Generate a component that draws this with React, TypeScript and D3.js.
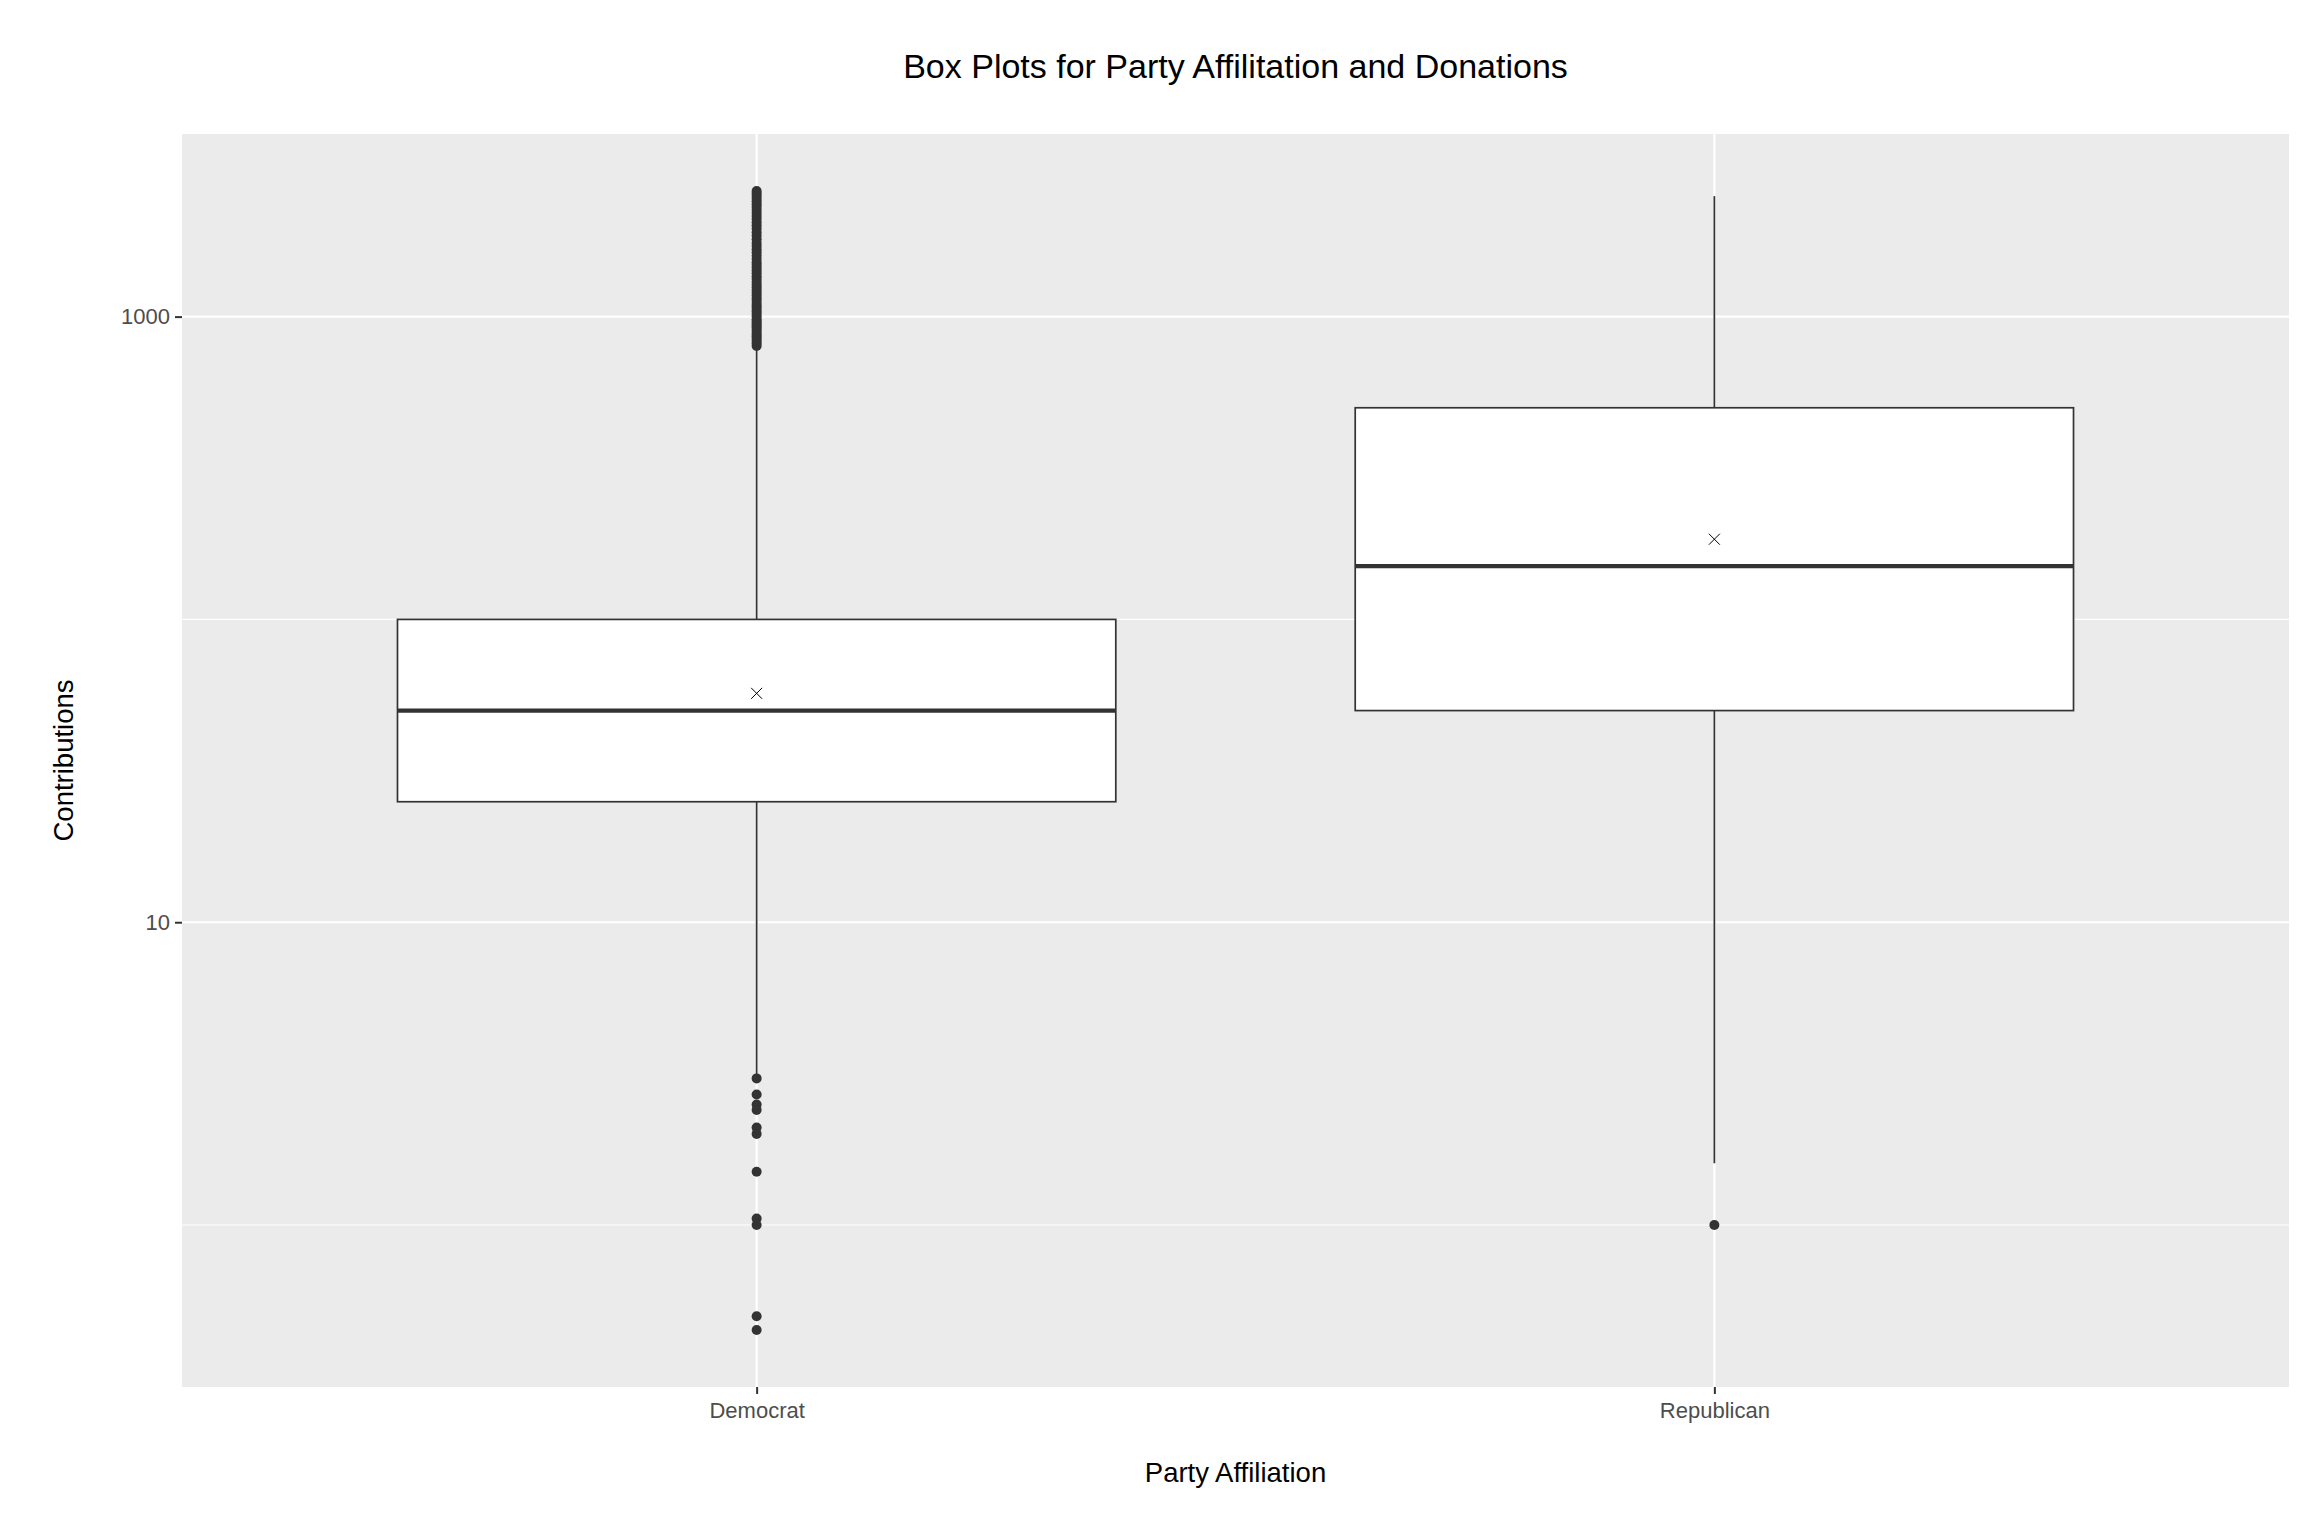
import * as d3 from 'd3'
import { useEffect, useRef } from 'react'

const parties = ['Democrat', 'Republican']
const q1 = [25, 50]
const medians = [50, 150]
const q3 = [100, 500]
const whiskerLow = [3.15, 1.6]
const whiskerHigh = [790, 2500]
const means = [57, 184]
const outliers = [
    [800, 815, 830, 845, 860, 875, 890, 905, 920, 935, 950, 965, 980, 1000, 1020, 1040, 1060, 1080, 1100, 1125,
        1150, 1175, 1200, 1225, 1250, 1275, 1300, 1330, 1360, 1390, 1420, 1450, 1480, 1510, 1550, 1590, 1630,
        1670, 1710, 1750, 1800, 1850, 1900, 1950, 2000, 2050, 2100, 2150, 2200, 2250, 2300, 2350, 2400, 2450,
        2500, 2550, 2600,
        3.05, 2.7, 2.5, 2.4, 2.1, 2, 1.5, 1.05, 1, 0.5, 0.45],
    [1],
]
const yBreaks = [10, 1000]
const yMinorBreaks = [1, 100]

const width = 2304
const height = 1536
const margin = { top: 134, right: 15, bottom: 149, left: 182 }
const font = '"Liberation Sans", Arial, sans-serif'

const App = () => {
    const ref = useRef<SVGSVGElement>(null)

    useEffect(() => {
        const innerWidth = width - margin.left - margin.right
        const innerHeight = height - margin.top - margin.bottom

        const root = d3.select(ref.current)
        root.selectAll('*').remove()

        // log range with ggplot-style 5% expansion
        const all = [...whiskerLow, ...whiskerHigh, ...outliers.flat()]
        const lo = Math.log10(d3.min(all)!)
        const hi = Math.log10(d3.max(all)!)
        const pad = (hi - lo) * 0.05
        const y = d3.scaleLog()
            .domain([10 ** (lo - pad), 10 ** (hi + pad)])
            .range([innerHeight, 0])

        const x = d3.scalePoint<string>()
            .domain(parties)
            .range([0, innerWidth])
            .padding(0.6)
        const boxW = x.step() * 0.75

        root.append('text')
            .attr('x', margin.left + innerWidth / 2)
            .attr('y', 78)
            .attr('text-anchor', 'middle')
            .attr('font-family', font)
            .attr('font-size', '34px')
            .attr('fill', '#000')
            .text('Box Plots for Party Affilitation and Donations')

        const svg = root.append('g')
            .attr('transform', `translate(${margin.left},${margin.top})`)

        svg.append('rect')
            .attr('width', innerWidth)
            .attr('height', innerHeight)
            .attr('fill', '#EBEBEB')

        // grid
        svg.selectAll('.minor')
            .data(yMinorBreaks)
            .join('line')
            .attr('x1', 0).attr('x2', innerWidth)
            .attr('y1', d => y(d)).attr('y2', d => y(d))
            .attr('stroke', '#fff').attr('stroke-width', 1.1)
        svg.selectAll('.major')
            .data(yBreaks)
            .join('line')
            .attr('x1', 0).attr('x2', innerWidth)
            .attr('y1', d => y(d)).attr('y2', d => y(d))
            .attr('stroke', '#fff').attr('stroke-width', 2.2)
        svg.selectAll('.vgrid')
            .data(parties)
            .join('line')
            .attr('x1', d => x(d)!).attr('x2', d => x(d)!)
            .attr('y1', 0).attr('y2', innerHeight)
            .attr('stroke', '#fff').attr('stroke-width', 2.2)

        // axes
        const yAxis = svg.append('g')
            .call(d3.axisLeft(y).tickValues(yBreaks).tickFormat(d3.format('d')).tickSize(7).tickPadding(5))
        const xAxis = svg.append('g')
            .attr('transform', `translate(0,${innerHeight})`)
            .call(d3.axisBottom(x).tickSize(7).tickPadding(8))
        for (const ax of [yAxis, xAxis]) {
            ax.select('.domain').remove()
            ax.selectAll('line').attr('stroke', '#333').attr('stroke-width', 2)
            ax.selectAll('text')
                .attr('font-family', font)
                .attr('font-size', '22px')
                .attr('fill', '#4D4D4D')
        }

        const groups = svg.selectAll('.box')
            .data(parties)
            .join('g')
            .attr('transform', d => `translate(${x(d)},0)`)

        groups.append('line')
            .attr('y1', (_, i) => y(q3[i])).attr('y2', (_, i) => y(whiskerHigh[i]))
            .attr('stroke', '#333').attr('stroke-width', 1.7)
        groups.append('line')
            .attr('y1', (_, i) => y(q1[i])).attr('y2', (_, i) => y(whiskerLow[i]))
            .attr('stroke', '#333').attr('stroke-width', 1.7)

        groups.append('rect')
            .attr('x', -boxW / 2)
            .attr('width', boxW)
            .attr('y', (_, i) => y(q3[i]))
            .attr('height', (_, i) => y(q1[i]) - y(q3[i]))
            .attr('fill', '#fff')
            .attr('stroke', '#333')
            .attr('stroke-width', 1.7)

        groups.append('line')
            .attr('x1', -boxW / 2).attr('x2', boxW / 2)
            .attr('y1', (_, i) => y(medians[i])).attr('y2', (_, i) => y(medians[i]))
            .attr('stroke', '#333').attr('stroke-width', 4.2)

        groups.selectAll('circle')
            .data((_, i) => outliers[i])
            .join('circle')
            .attr('cy', d => y(d))
            .attr('r', 5)
            .attr('fill', '#333')

        // mean marker (x)
        const s = 5.5
        groups.append('path')
            .attr('d', (_, i) => {
                const cy = y(means[i])
                return `M${-s},${cy - s}L${s},${cy + s}M${-s},${cy + s}L${s},${cy - s}`
            })
            .attr('stroke', '#000')
            .attr('stroke-width', 1)
            .attr('fill', 'none')

        root.append('text')
            .attr('x', margin.left + innerWidth / 2)
            .attr('y', 1482)
            .attr('text-anchor', 'middle')
            .attr('font-family', font)
            .attr('font-size', '27.5px')
            .attr('fill', '#000')
            .text('Party Affiliation')

        root.append('text')
            .attr('transform', `translate(73,${margin.top + innerHeight / 2}) rotate(-90)`)
            .attr('text-anchor', 'middle')
            .attr('font-family', font)
            .attr('font-size', '27.5px')
            .attr('fill', '#000')
            .text('Contributions')
    }, [])

    return (
        <div style={{ position: 'absolute', left: 0, top: 0 }}>
            <svg ref={ref} width={width} height={height} style={{ display: 'block', background: '#fff' }} />
        </div>
    )
}

export default App
